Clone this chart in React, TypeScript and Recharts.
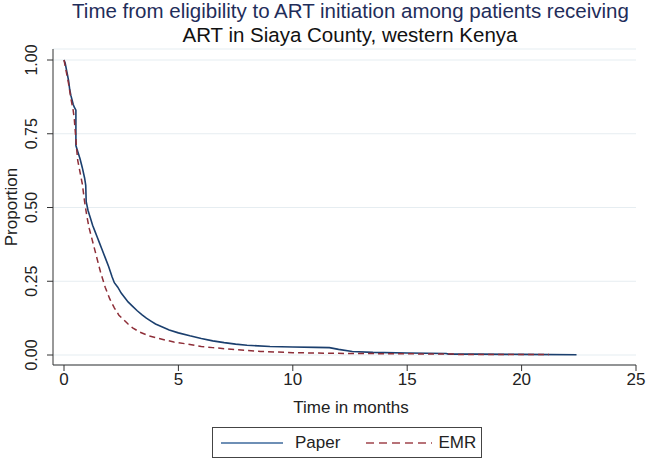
import React from 'react';
import { LineChart, Line, XAxis, YAxis, CartesianGrid } from 'recharts';

// Kaplan-Meier estimates (repeated time = vertical drop)
const paperTimes = [0, 0.05, 0.1, 0.15, 0.2, 0.25, 0.3, 0.35, 0.4, 0.45, 0.52, 0.52, 0.6, 0.7, 0.8, 0.9, 0.95, 0.97, 1.05, 1.15, 1.25, 1.35, 1.45, 1.55, 1.65, 1.8, 1.95, 2.1, 2.2, 2.35, 2.5, 2.65, 2.8, 3.0, 3.2, 3.4, 3.6, 3.8, 4.0, 4.3, 4.6, 5.0, 5.5, 6.0, 6.5, 7.0, 7.5, 8.0, 9.0, 10.0, 11.0, 11.6, 12.0, 12.6, 13.5, 15.0, 16.7, 16.8, 18.0, 20.0, 22.4];
const paperProp = [1.0, 0.99, 0.97, 0.95, 0.93, 0.9, 0.88, 0.865, 0.85, 0.84, 0.83, 0.71, 0.69, 0.665, 0.635, 0.6, 0.575, 0.52, 0.49, 0.465, 0.44, 0.42, 0.4, 0.38, 0.36, 0.33, 0.3, 0.265, 0.245, 0.23, 0.21, 0.195, 0.18, 0.165, 0.15, 0.137, 0.125, 0.115, 0.105, 0.095, 0.085, 0.075, 0.065, 0.056, 0.048, 0.042, 0.037, 0.033, 0.029, 0.027, 0.026, 0.025, 0.019, 0.012, 0.009, 0.007, 0.005, 0.003, 0.003, 0.002, 0.001];

const emrTimes = [0, 0.05, 0.1, 0.2, 0.3, 0.4, 0.45, 0.5, 0.55, 0.6, 0.7, 0.8, 0.9, 1.0, 1.1, 1.2, 1.3, 1.4, 1.5, 1.6, 1.7, 1.8, 1.9, 2.0, 2.2, 2.4, 2.6, 2.8, 3.0, 3.3, 3.7, 4.2, 4.8, 5.4, 6.0, 6.5, 7.5, 8.6, 10.0, 11.5, 13.0, 15.0, 17.0, 17.2, 21.2];
const emrProp = [1.0, 0.98, 0.96, 0.92, 0.87, 0.83, 0.8, 0.75, 0.7, 0.66, 0.62, 0.58, 0.52, 0.47, 0.43, 0.4, 0.37, 0.34, 0.31, 0.28, 0.255, 0.23, 0.21, 0.19, 0.16, 0.135, 0.12, 0.105, 0.092, 0.078, 0.065, 0.055, 0.044, 0.037, 0.029, 0.025, 0.018, 0.012, 0.008, 0.006, 0.005, 0.004, 0.003, 0.002, 0.002];

const xTicks = [0, 5, 10, 15, 20, 25];
const yTicks = [0, 0.25, 0.5, 0.75, 1];

const paperData = paperTimes.map((t, i) => ({ t, p: paperProp[i] }));
const emrData = emrTimes.map((t, i) => ({ t, p: emrProp[i] }));

const FONT = '"Liberation Sans", Arial, sans-serif';

const YTick = ({ x, y, payload }: any) => (
  <text
    x={x - 8}
    y={y}
    transform={`rotate(-90, ${x - 8}, ${y})`}
    textAnchor="middle"
    fontSize={16}
    fill="#222"
    fontFamily={FONT}
  >
    {payload.value.toFixed(2)}
  </text>
);

export default function App() {
  return (
    <div style={{ position: 'absolute', left: 0, top: 0, width: 649, height: 460, background: '#fff', fontFamily: FONT }}>
      <div style={{ position: 'absolute', left: 0, width: 701, top: -1, textAlign: 'center', fontSize: 20.5, lineHeight: '24px', color: '#1f2d5a', whiteSpace: 'nowrap' }}>
        Time from eligibility to ART initiation among patients receiving
      </div>
      <div style={{ position: 'absolute', left: 0, width: 700, top: 23, textAlign: 'center', fontSize: 20.5, lineHeight: '24px', color: '#111' }}>
        ART in Siaya County, western Kenya
      </div>
      <LineChart width={649} height={460} margin={{ top: 49, right: 13, left: 0, bottom: 65 }}>
        <CartesianGrid horizontal vertical={false} stroke="#e6edf1" strokeWidth={1.2} />
        <XAxis
          type="number"
          dataKey="t"
          domain={[0, 25]}
          ticks={xTicks}
          padding={{ left: 11, right: 0 }}
          stroke="#333"
          tickSize={6}
          height={30}
          tick={{ fontSize: 17, fill: '#222', fontFamily: FONT }}
          allowDuplicatedCategory={false}
        />
        <YAxis
          type="number"
          dataKey="p"
          domain={[0, 1]}
          ticks={yTicks}
          padding={{ top: 11, bottom: 10 }}
          width={53}
          stroke="#333"
          tickSize={6}
          tick={<YTick />}
        />
        <Line
          data={paperData}
          dataKey="p"
          type="linear"
          stroke="#1b3f6e"
          strokeWidth={1.6}
          dot={false}
          isAnimationActive={false}
        />
        <Line
          data={emrData}
          dataKey="p"
          type="linear"
          stroke="#8e2e38"
          strokeWidth={1.5}
          strokeDasharray="6 4"
          dot={false}
          isAnimationActive={false}
        />
      </LineChart>
      <div style={{ position: 'absolute', left: 12, top: 207, width: 0, height: 0 }}>
        <div style={{ position: 'absolute', left: -60, top: -11, width: 120, lineHeight: '22px', textAlign: 'center', fontSize: 17, color: '#222', transform: 'rotate(-90deg)' }}>
          Proportion
        </div>
      </div>
      <div style={{ position: 'absolute', left: 251, width: 200, top: 397, lineHeight: '22px', textAlign: 'center', fontSize: 17, color: '#222' }}>
        Time in months
      </div>
      <div style={{ position: 'absolute', left: 212, top: 427, width: 270, height: 31, border: '1px solid #444', boxSizing: 'border-box', display: 'flex', alignItems: 'center', fontSize: 17, color: '#222' }}>
        <svg width={80} height={10} style={{ marginLeft: 8 }}>
          <line x1={0} y1={5} x2={62} y2={5} stroke="#3e6a9c" strokeWidth={1.5} />
        </svg>
        <span style={{ marginLeft: -6 }}>Paper</span>
        <svg width={80} height={10} style={{ marginLeft: 26 }}>
          <line x1={0} y1={5} x2={66} y2={5} stroke="#a0444c" strokeWidth={1.5} strokeDasharray="8 5" />
        </svg>
        <span style={{ marginLeft: -8 }}>EMR</span>
      </div>
    </div>
  );
}
